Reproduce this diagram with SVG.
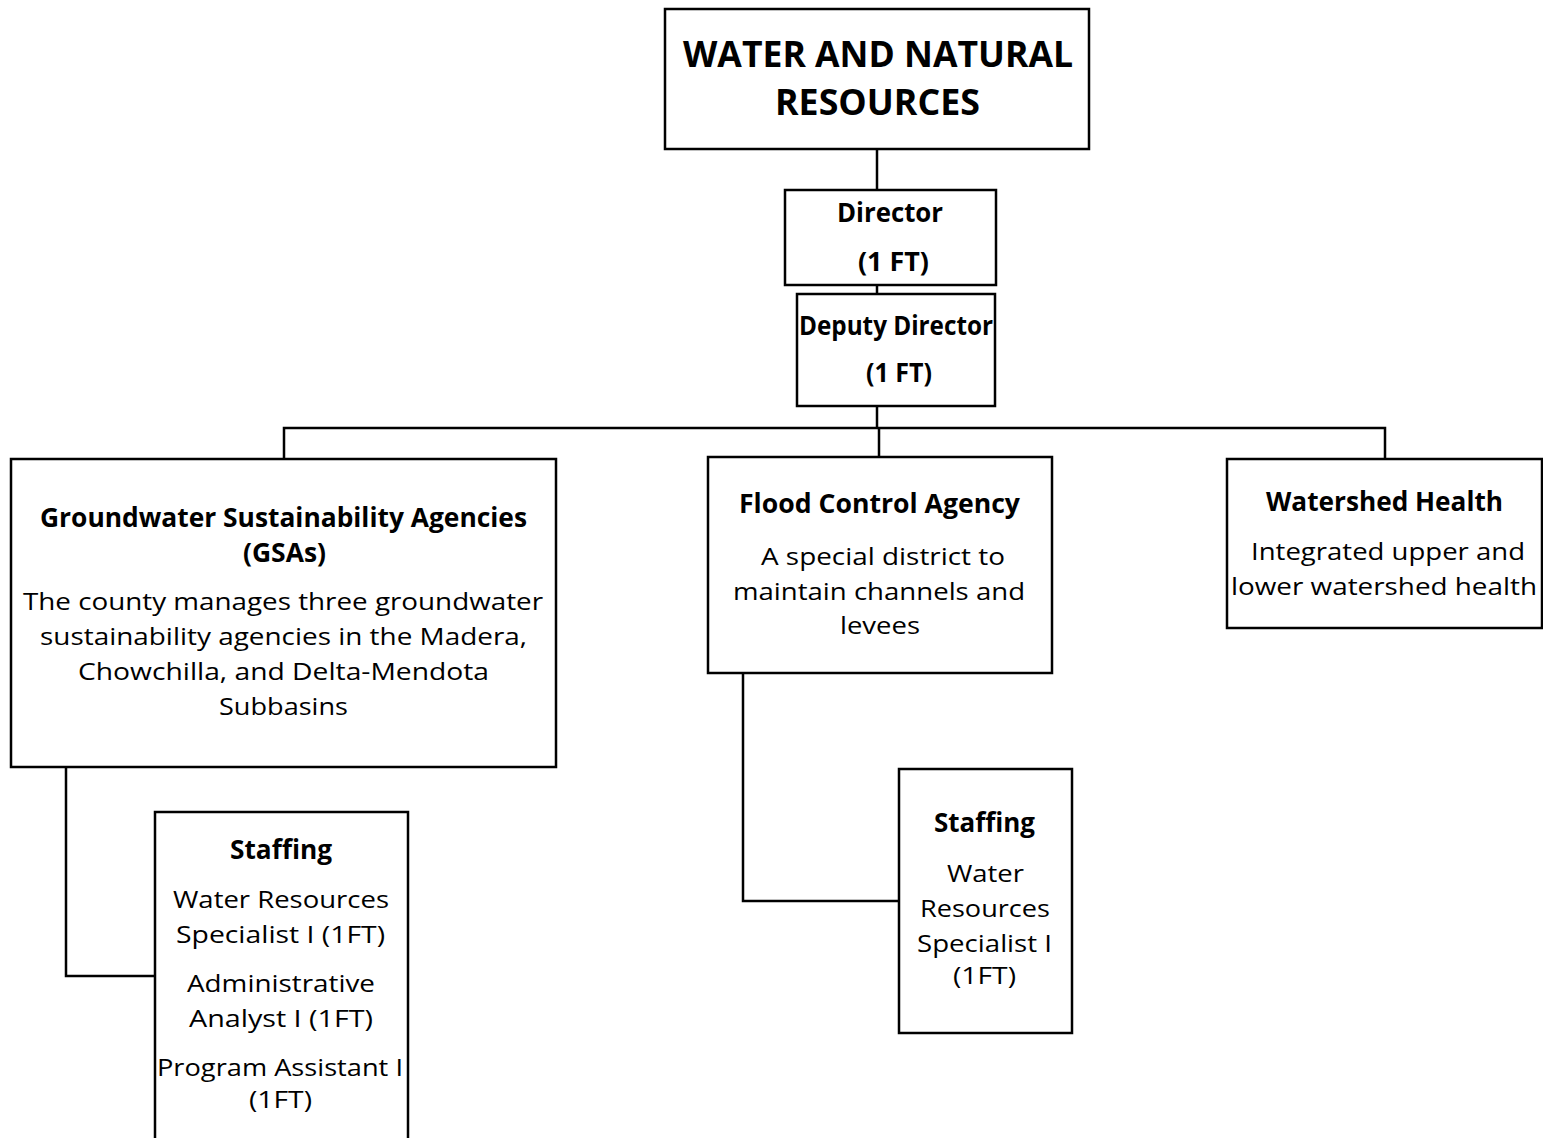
<svg xmlns="http://www.w3.org/2000/svg" width="1543" height="1138" viewBox="0 0 1543 1138">
  <style>
    .box { fill: #ffffff; stroke: #000000; stroke-width: 2.5; }
    .wire { fill: none; stroke: #000000; stroke-width: 2.5; }
    text { font-family: "Open Sans", "Noto Sans", "Liberation Sans", sans-serif; fill: #000000; }
    .title { font-size: 35px; font-weight: 700; }
    .head { font-size: 26px; font-weight: 700; }
    .body { font-size: 24px; font-weight: 400; }
  </style>
  <rect width="1543" height="1138" fill="#ffffff"/>

  <!-- reporting lines -->
  <g id="connectors">
    <line class="wire" x1="877" y1="149" x2="877" y2="190"/>
    <line class="wire" x1="877" y1="285" x2="877" y2="294"/>
    <line class="wire" x1="877" y1="406" x2="877" y2="428"/>
    <polyline class="wire" points="284,459 284,428 1385,428 1385,459"/>
    <line class="wire" x1="879" y1="428" x2="879" y2="457"/>
    <polyline class="wire" points="66,767 66,976 155,976"/>
    <polyline class="wire" points="743,673 743,901 899,901"/>
  </g>

  <g id="department">
    <rect class="box" x="665" y="9" width="424" height="140"/>
    <text class="title" x="683" y="67" textLength="390" lengthAdjust="spacingAndGlyphs">WATER AND NATURAL</text>
    <text class="title" x="775" y="115" textLength="205" lengthAdjust="spacingAndGlyphs">RESOURCES</text>
  </g>

  <g id="director">
    <rect class="box" x="785" y="190" width="211" height="95"/>
    <text class="head" x="837" y="222" textLength="106" lengthAdjust="spacingAndGlyphs">Director</text>
    <text class="head" x="858" y="271" textLength="71" lengthAdjust="spacingAndGlyphs">(1 FT)</text>
  </g>

  <g id="deputy-director">
    <rect class="box" x="797" y="294" width="198" height="112"/>
    <text class="head" x="799" y="335" textLength="194" lengthAdjust="spacingAndGlyphs">Deputy Director</text>
    <text class="head" x="866" y="382" textLength="66" lengthAdjust="spacingAndGlyphs">(1 FT)</text>
  </g>

  <g id="gsa">
    <rect class="box" x="11" y="459" width="545" height="308"/>
    <text class="head" x="40" y="527" textLength="487" lengthAdjust="spacingAndGlyphs">Groundwater Sustainability Agencies</text>
    <text class="head" x="243" y="562" textLength="83" lengthAdjust="spacingAndGlyphs">(GSAs)</text>
    <text class="body" x="23" y="610" textLength="520" lengthAdjust="spacingAndGlyphs">The county manages three groundwater</text>
    <text class="body" x="40" y="645" textLength="487" lengthAdjust="spacingAndGlyphs">sustainability agencies in the Madera,</text>
    <text class="body" x="78" y="680" textLength="411" lengthAdjust="spacingAndGlyphs">Chowchilla, and Delta-Mendota</text>
    <text class="body" x="219" y="715" textLength="129" lengthAdjust="spacingAndGlyphs">Subbasins</text>
  </g>

  <g id="flood-control">
    <rect class="box" x="708" y="457" width="344" height="216"/>
    <text class="head" x="739" y="513" textLength="281" lengthAdjust="spacingAndGlyphs">Flood Control Agency</text>
    <text class="body" x="761" y="565" textLength="244" lengthAdjust="spacingAndGlyphs">A special district to</text>
    <text class="body" x="733" y="600" textLength="292" lengthAdjust="spacingAndGlyphs">maintain channels and</text>
    <text class="body" x="840" y="634" textLength="80" lengthAdjust="spacingAndGlyphs">levees</text>
  </g>

  <g id="watershed-health">
    <rect class="box" x="1227" y="459" width="315" height="169"/>
    <text class="head" x="1266" y="511" textLength="237" lengthAdjust="spacingAndGlyphs">Watershed Health</text>
    <text class="body" x="1251" y="560" textLength="274" lengthAdjust="spacingAndGlyphs">Integrated upper and</text>
    <text class="body" x="1231" y="595" textLength="306" lengthAdjust="spacingAndGlyphs">lower watershed health</text>
  </g>

  <g id="gsa-staffing">
    <rect class="box" x="155" y="812" width="253" height="340"/>
    <text class="head" x="230" y="859" textLength="102" lengthAdjust="spacingAndGlyphs">Staffing</text>
    <text class="body" x="173" y="908" textLength="216" lengthAdjust="spacingAndGlyphs">Water Resources</text>
    <text class="body" x="176" y="943" textLength="209" lengthAdjust="spacingAndGlyphs">Specialist I (1FT)</text>
    <text class="body" x="187" y="992" textLength="188" lengthAdjust="spacingAndGlyphs">Administrative</text>
    <text class="body" x="189" y="1027" textLength="184" lengthAdjust="spacingAndGlyphs">Analyst I (1FT)</text>
    <text class="body" x="157" y="1076" textLength="246" lengthAdjust="spacingAndGlyphs">Program Assistant I</text>
    <text class="body" x="249" y="1108" textLength="63" lengthAdjust="spacingAndGlyphs">(1FT)</text>
  </g>

  <g id="flood-staffing">
    <rect class="box" x="899" y="769" width="173" height="264"/>
    <text class="head" x="934" y="832" textLength="101" lengthAdjust="spacingAndGlyphs">Staffing</text>
    <text class="body" x="947" y="882" textLength="77" lengthAdjust="spacingAndGlyphs">Water</text>
    <text class="body" x="920" y="917" textLength="130" lengthAdjust="spacingAndGlyphs">Resources</text>
    <text class="body" x="917" y="952" textLength="135" lengthAdjust="spacingAndGlyphs">Specialist I</text>
    <text class="body" x="953" y="984" textLength="63" lengthAdjust="spacingAndGlyphs">(1FT)</text>
  </g>
</svg>
